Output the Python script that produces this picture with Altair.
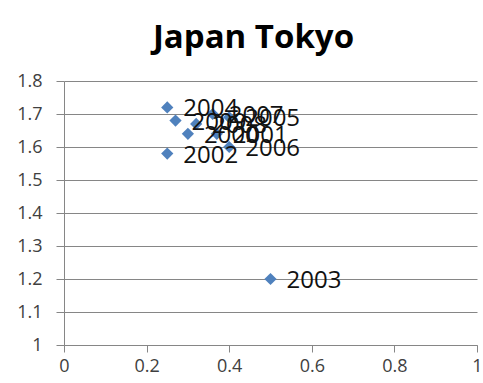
import altair as alt
import pandas as pd

years = ["2000", "2001", "2002", "2003", "2004", "2005", "2006", "2007", "2008", "2009"]
x_vals = [0.30, 0.37, 0.25, 0.50, 0.25, 0.40, 0.40, 0.36, 0.32, 0.27]
y_vals = [1.64, 1.64, 1.58, 1.20, 1.72, 1.69, 1.60, 1.70, 1.67, 1.68]

df = pd.DataFrame({"year": years, "x": x_vals, "y": y_vals})

xs = alt.Scale(domain=[0, 1], nice=False, zero=False)
ys = alt.Scale(domain=[1, 1.8], nice=False, zero=False)

base = alt.Chart(df).encode(
    x=alt.X("x:Q", scale=xs, axis=alt.Axis(
        title=None, values=[0, 0.2, 0.4, 0.6, 0.8, 1], format="~g",
        grid=False, tickSize=7, tickColor="#868686", domainColor="#868686",
        labelFontSize=18, labelColor="#404040", labelFont="Open Sans", labelPadding=5,
        labelFlush=False)),
    y=alt.Y("y:Q", scale=ys, axis=alt.Axis(
        title=None, values=[1, 1.1, 1.2, 1.3, 1.4, 1.5, 1.6, 1.7, 1.8], format="~g",
        grid=True, gridColor="#868686", tickSize=8, tickColor="#868686",
        domainColor="#868686", labelFontSize=18, labelColor="#404040",
        labelFont="Open Sans", labelPadding=14)),
)

pts = base.mark_point(shape="diamond", filled=True, size=150, color="#4F81BD", opacity=1)
labels = base.mark_text(align="left", baseline="middle", dx=16, dy=2, fontSize=24,
                        font="Open Sans", color="#111111").encode(text="year:N")

chart = (pts + labels).properties(
    width=413, height=264,
    title=alt.TitleParams("Japan Tokyo", fontSize=33, font="Open Sans", fontWeight="bold",
                          color="#000000", anchor="middle", dx=-17, offset=17),
    padding={"left": 64, "top": 81, "right": 6, "bottom": 38},
    autosize=alt.AutoSizeParams(type="none"),
).configure_view(stroke=None)

chart.save("out.html", embed_options={"renderer": "svg", "actions": False})
